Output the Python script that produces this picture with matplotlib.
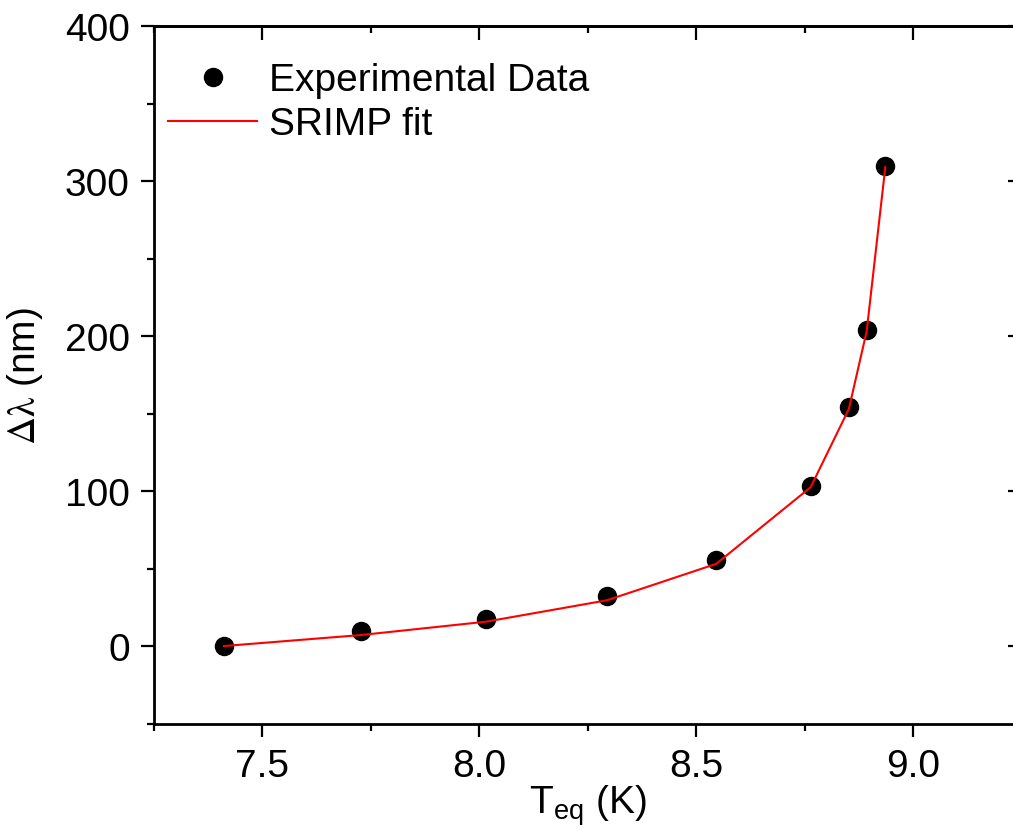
import matplotlib
matplotlib.use("Agg")
import matplotlib.pyplot as plt
from matplotlib.ticker import MultipleLocator, AutoMinorLocator

# experimental points
t_eq = [7.411, 7.727, 8.015, 8.294, 8.546, 8.764, 8.852, 8.893, 8.936]
d_lambda = [0.0, 9.7, 17.4, 32.0, 55.5, 103.0, 154.4, 203.9, 309.9]

# SRIMP fit evaluated at the same temperatures
fit_t = [7.411, 7.727, 8.015, 8.294, 8.546, 8.764, 8.852, 8.893, 8.936]
fit_lambda = [0.0, 7.1, 15.7, 29.5, 53.0, 102.5, 153.0, 203.0, 309.0]

plt.rcParams['font.family'] = ['Liberation Sans', 'DejaVu Sans']


def make_plot():
    fig = plt.figure(figsize=(10.13, 8.29), dpi=100)
    ax = fig.add_axes([0.152, 0.126, 0.8564, 0.8414])

    ax.plot(t_eq, d_lambda, 'o', color='black', markersize=13,
            label='Experimental Data', zorder=2)
    ax.plot(fit_t, fit_lambda, '-', color='red', linewidth=1.5,
            label='SRIMP fit', zorder=3)

    ax.set_xlim(7.25, 9.25)
    ax.set_ylim(-50, 400)
    ax.xaxis.set_major_locator(MultipleLocator(0.5))
    ax.xaxis.set_minor_locator(AutoMinorLocator(2))
    ax.yaxis.set_major_locator(MultipleLocator(100))
    ax.yaxis.set_minor_locator(AutoMinorLocator(2))

    for s in ax.spines.values():
        s.set_linewidth(2.0)

    ax.tick_params(which='major', direction='out', length=9.5, width=1.6,
                   labelsize=28, pad=8)
    ax.tick_params(which='minor', direction='out', length=5, width=1.6)

    # mirrored axes: ticks point the same way (inward on top / right)
    top = ax.secondary_xaxis('top')
    top.xaxis.set_major_locator(MultipleLocator(0.5))
    top.xaxis.set_minor_locator(AutoMinorLocator(2))
    top.tick_params(which='major', direction='in', length=10, width=1.6,
                    labeltop=False)
    top.tick_params(which='minor', direction='in', length=5, width=1.6)
    top.spines['top'].set_linewidth(2.0)

    right = ax.secondary_yaxis('right')
    right.yaxis.set_major_locator(MultipleLocator(100))
    right.yaxis.set_minor_locator(AutoMinorLocator(2))
    right.tick_params(which='major', direction='in', length=10, width=1.6,
                      labelright=False)
    right.tick_params(which='minor', direction='in', length=5, width=1.6)
    right.spines['right'].set_linewidth(2.0)

    ax.set_xlabel(r'T$_{\mathregular{eq}}$ (K)', fontsize=28, labelpad=-1)
    ax.set_ylabel(r'$\mathrm{\Delta\lambda}$ (nm)', fontsize=28, labelpad=14,
                  math_fontfamily='stix')

    ax.legend(loc='upper left', bbox_to_anchor=(0.016, 0.948), frameon=False,
              fontsize=28, borderpad=0, borderaxespad=0, handlelength=2.3,
              handletextpad=0.3, labelspacing=0.21, numpoints=1)

    fig.savefig('out.png', dpi=100)


def main():
    make_plot()


if __name__ == "__main__":
    main()
